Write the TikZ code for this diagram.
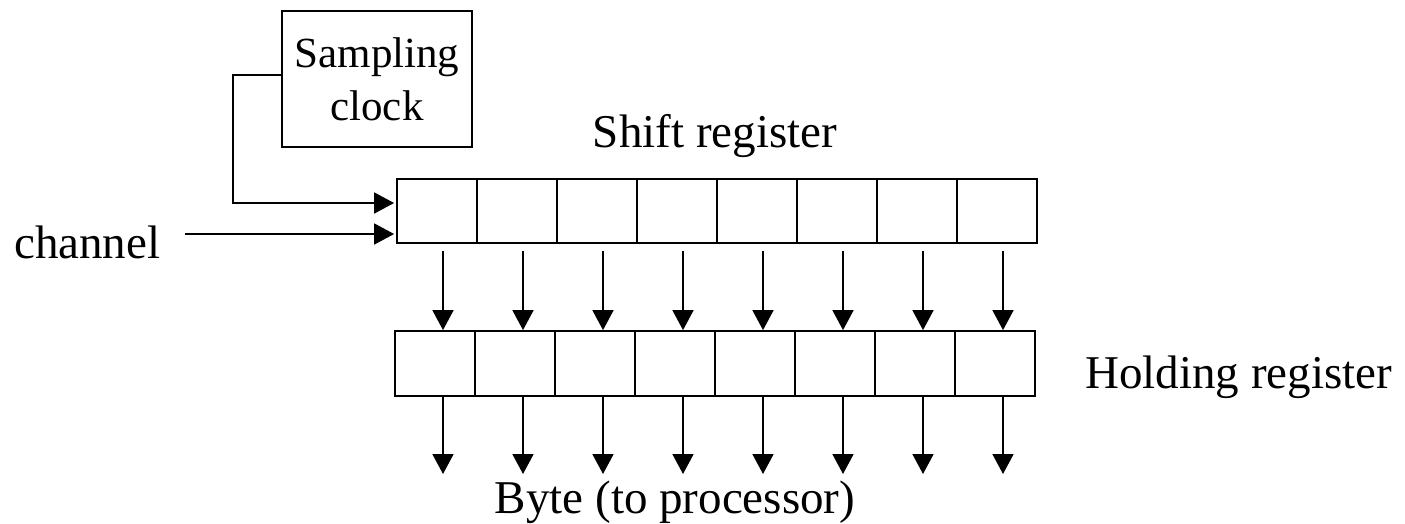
\documentclass[tikz,border=0pt]{standalone}
\usepackage{fontspec}
\setmainfont{Liberation Serif}
\usetikzlibrary{arrows.meta,calc}

\tikzset{
  wire/.style={line width=1.8pt},
  arr/.style={wire, -{Triangle[width=21pt,length=20pt]}},
  cell/.style={draw, line width=1.8pt, inner sep=0pt, minimum width=80pt, minimum height=64pt},
  hcell/.style={cell, minimum height=65pt},
  lbl/.style={inner sep=0pt, font=\fontsize{47}{56}\selectfont},
  clockbox/.style={draw, line width=1.8pt, inner sep=0pt, minimum width=190pt, minimum height=136pt,
    align=center, font=\fontsize{43}{53}\selectfont}
}

\begin{document}
\begin{tikzpicture}[x=1pt, y=-1pt]
  \useasboundingbox (0,0) rectangle (1405,523);

  % sampling clock
  \node[clockbox] (clk) at (377,79) {Sampling\\clock};

  % shift register cells
  \foreach \i in {0,...,7} {
    \node[cell] (s\i) at ({437+80*\i},211) {};
  }
  % holding register cells
  \foreach \i in {0,...,7} {
    \node[hcell] (h\i) at ({435+80*\i},363.5) {};
  }

  % labels
  \node[lbl, anchor=base] (shlbl) at (715,147) {Shift register};
  \node[lbl, anchor=base west] (hllbl) at (1085,388) {Holding register};
  \node[lbl, anchor=base west] (chan) at (14,258) {channel};
  \node[lbl, anchor=base] (byte) at (675,513) {Byte (to processor)};

  % clock line into the shift register
  \coordinate (bend) at (233,203);
  \draw[arr] ([yshift=4pt]clk.west) -| (bend) -- ([xshift=-2pt,yshift=8pt]s0.west);

  % serial input
  \coordinate (cin) at (185,234);
  \draw[arr] (cin) -- ([xshift=-2pt,yshift=-23pt]s0.west);

  % parallel transfer into the holding register, then out to the processor
  \foreach \i in {0,...,7} {
    \coordinate (t\i) at ({443+80*\i},251);
    \coordinate (o\i) at ({443+80*\i},474);
    \draw[arr] (t\i) -- (t\i |- h\i.north);
    \draw[arr] (o\i |- h\i.south) -- (o\i);
  }
\end{tikzpicture}
\end{document}
